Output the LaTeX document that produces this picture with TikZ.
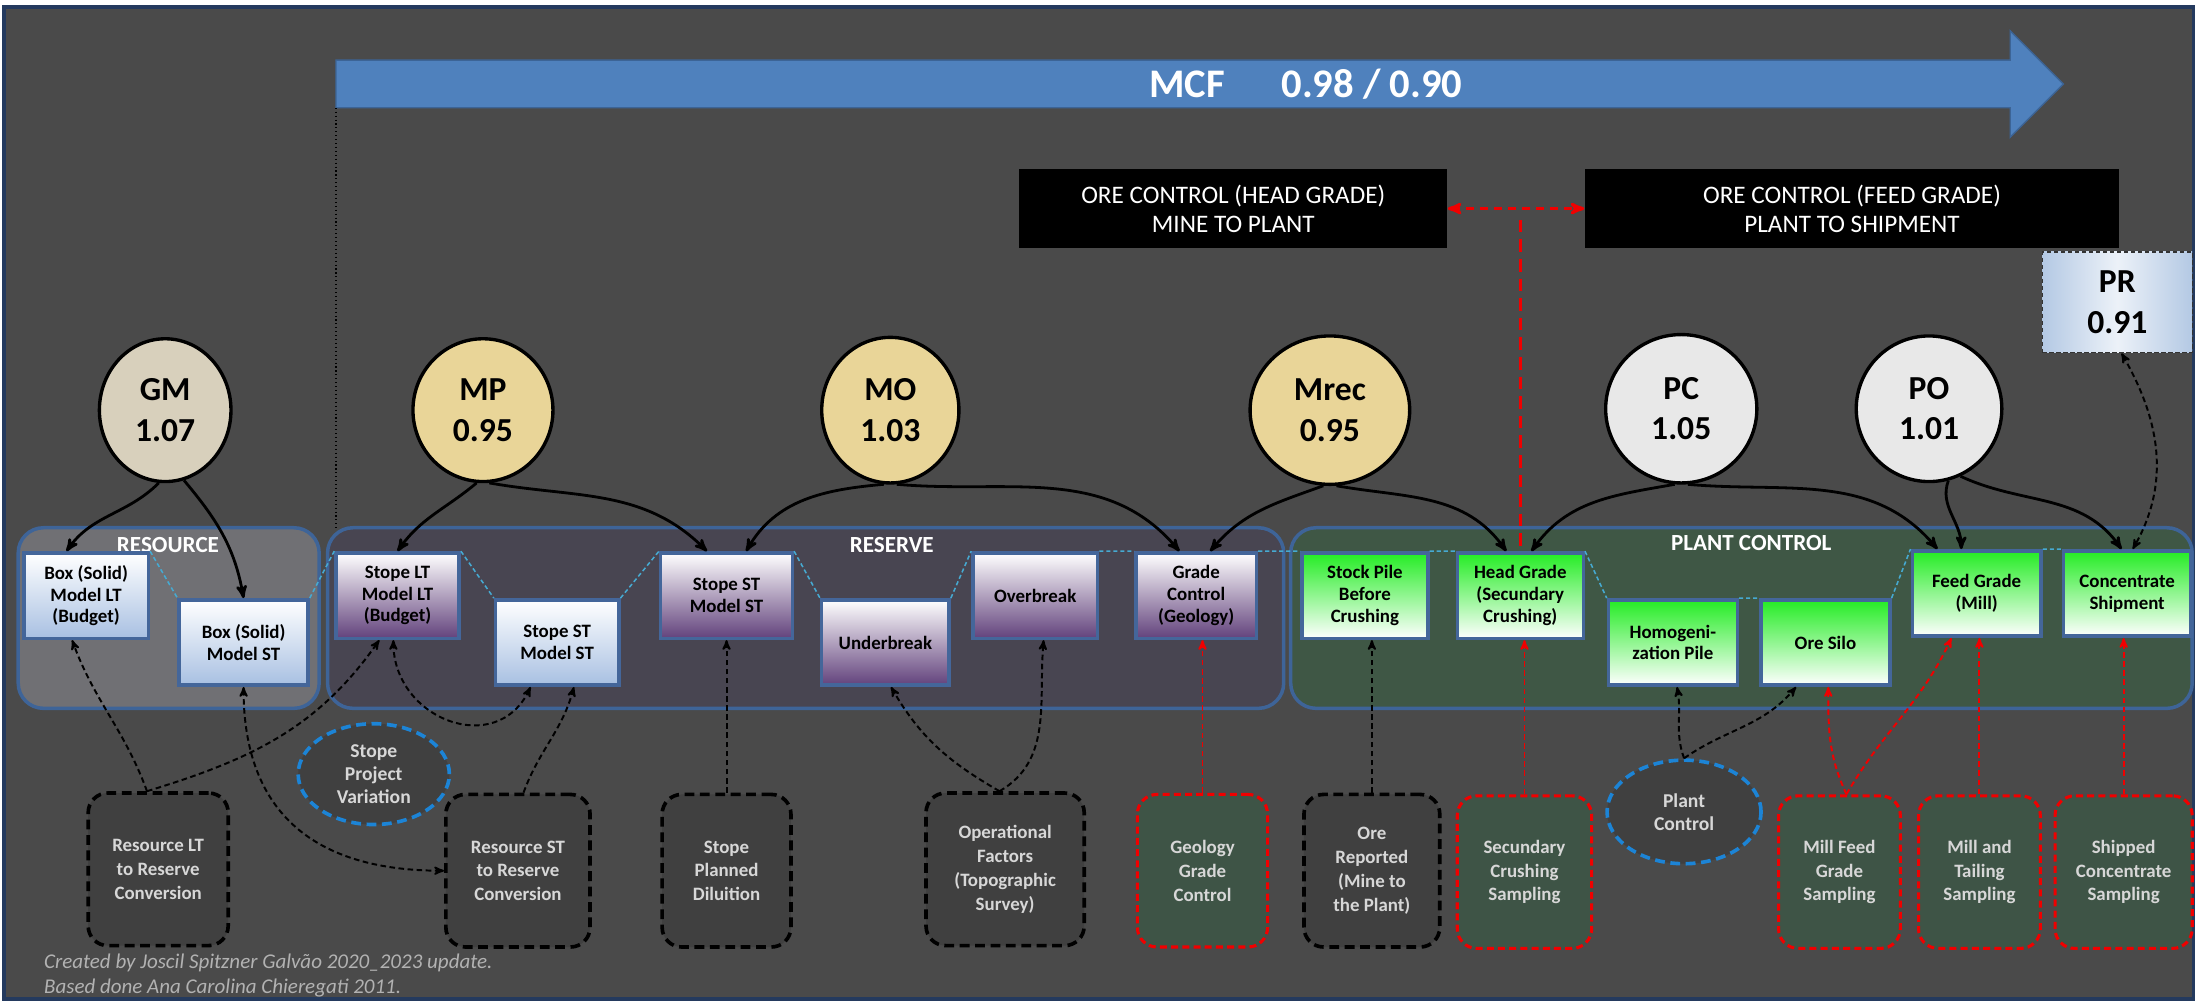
\documentclass[tikz,border=0pt]{standalone}
\usepackage{fontspec}
\setmainfont{Carlito}
\usetikzlibrary{arrows}
\usetikzlibrary{shapes}

\definecolor{bgdark}{RGB}{74,74,74}
\definecolor{frameblue}{RGB}{36,58,94}
\definecolor{mcfblue}{RGB}{79,129,189}
\definecolor{mcfedge}{RGB}{60,100,150}
\definecolor{contblue}{RGB}{62,100,152}
\definecolor{resfill}{RGB}{112,112,116}
\definecolor{resvfill}{RGB}{72,69,81}
\definecolor{plantfill}{RGB}{63,87,69}
\definecolor{boxedge}{RGB}{68,102,154}
\definecolor{lightblue}{RGB}{168,192,226}
\definecolor{stopepurple}{RGB}{98,66,124}
\definecolor{plantgreen}{RGB}{36,236,36}
\definecolor{linkcyan}{RGB}{70,170,210}
\definecolor{linen}{RGB}{216,208,188}
\definecolor{parch}{RGB}{233,213,152}
\definecolor{paper}{RGB}{232,232,232}
\definecolor{convfill}{RGB}{64,64,64}
\definecolor{sampfill}{RGB}{62,84,70}
\definecolor{ctlblue}{RGB}{28,132,214}
\definecolor{prblue}{RGB}{180,201,228}
\definecolor{notegray}{RGB}{178,178,178}
\definecolor{labelgray}{RGB}{215,215,215}
\definecolor{redline}{RGB}{240,0,0}

\begin{document}
\begin{tikzpicture}[x=1pt,y=1pt,>=stealth',
    factor/.style={ellipse,draw=black,line width=2.4pt,inner sep=0pt,align=center,
        font=\bfseries\fontsize{24}{29}\selectfont},
    modelbox/.style={rectangle,draw=boxedge,line width=2.5pt,inner sep=0pt,
        minimum width=89pt,minimum height=61pt,align=center,
        font=\bfseries\fontsize{13.5}{15.5}\selectfont},
    blueshade/.style={top color=white,bottom color=lightblue},
    purpleshade/.style={top color=white,bottom color=stopepurple},
    greenshade/.style={top color=plantgreen,bottom color=white},
    convbox/.style={rectangle,rounded corners=14pt,draw=black,line width=2.6pt,
        dash pattern=on 7pt off 4pt,fill=convfill,text=labelgray,align=center,
        minimum height=109pt,inner sep=0pt,font=\bfseries\fontsize{13.5}{17}\selectfont},
    sampbox/.style={convbox,draw=redline,fill=sampfill,line width=2.2pt,
        dash pattern=on 5pt off 3pt},
    varell/.style={ellipse,draw=ctlblue,line width=2.6pt,dash pattern=on 7pt off 4pt,
        fill=convfill,text=labelgray,align=center,inner sep=0pt,
        font=\bfseries\fontsize{14}{16.5}\selectfont},
    orebox/.style={fill=black,text=white,minimum height=56pt,inner sep=0pt,
        align=center,font=\fontsize{18}{21}\selectfont},
    container/.style={draw=contblue,line width=2.5pt,rounded corners=18pt},
    contlabel/.style={text=white,font=\bfseries\fontsize{16.5}{18}\selectfont},
    link/.style={draw=linkcyan,line width=1.1pt,dash pattern=on 3pt off 2pt},
    feeds/.style={->,line width=2pt},
    infl/.style={->,line width=1.4pt,dash pattern=on 4pt off 2.5pt},
    redinfl/.style={infl,draw=redline}]
\useasboundingbox (0,0) rectangle (1568,715);
\fill[white] (0,0) rectangle (1568,715);
\draw[frameblue,line width=2.5pt,fill=bgdark] (3,1.5) rectangle (1567,710);

% MCF arrow
\draw[mcfedge,line width=1pt,fill=mcfblue] (240,638) -- (1436,638) -- (1436,617)
    -- (1474,655) -- (1436,693) -- (1436,672) -- (240,672) -- cycle;
\node[text=white,font=\bfseries\fontsize{29}{32}\selectfont] (mcf) at (848,655) {MCF};
\node[text=white,font=\bfseries\fontsize{29}{32}\selectfont] (mcfval) at (980,655) {0.98 / 0.90};
\draw[black,dotted,line width=0.8pt] (240,638) -- (240,338);

% ore control
\node[orebox,minimum width=306pt] (oreHead) at (881,566) {ORE CONTROL (HEAD GRADE)\\MINE TO PLANT};
\node[orebox,minimum width=382pt] (oreFeed) at (1323,566) {ORE CONTROL (FEED GRADE)\\PLANT TO SHIPMENT};
\node[draw=black!80,densely dashed,line width=0.8pt,left color=prblue,right color=prblue,
    middle color=white!75!prblue,minimum width=107pt,minimum height=72pt,inner sep=0pt,
    align=center,font=\bfseries\fontsize{24}{29}\selectfont] (PR) at (1512.5,499) {PR\\0.91};

% containers
\draw[container,fill=resfill] (13,209) rectangle (228,338);
\draw[container,fill=resvfill] (234,209) rectangle (917,338);
\draw[container,fill=plantfill] (922,209) rectangle (1566,338);
\node[contlabel] (resLabel) at (120,326) {RESOURCE};
\node[contlabel] (resvLabel) at (637,326) {RESERVE};
\node[contlabel] (plantLabel) at (1251,327) {PLANT CONTROL};

% factors
\node[factor,fill=linen,minimum width=94pt,minimum height=102pt] (GM) at (118,422) {GM\\1.07};
\node[factor,fill=parch,minimum width=100pt,minimum height=102pt] (MP) at (345,422) {MP\\0.95};
\node[factor,fill=parch,minimum width=98pt,minimum height=104pt] (MO) at (636,422) {MO\\1.03};
\node[factor,fill=parch,minimum width=114pt,minimum height=106pt] (Mrec) at (950,422) {Mrec\\0.95};
\node[factor,fill=paper,minimum width=108pt,minimum height=106pt] (PC) at (1201,423) {PC\\1.05};
\node[factor,fill=paper,minimum width=104pt,minimum height=104pt] (PO) at (1378,423) {PO\\1.01};

% models
\node[modelbox,blueshade] (boxLT) at (61.5,289.5) {Box (Solid)\\Model LT\\(Budget)};
\node[modelbox,blueshade,minimum width=92pt] (boxST) at (174,256) {Box (Solid)\\Model ST};
\node[modelbox,purpleshade,minimum width=88pt] (stopeLT) at (284,289.5) {Stope LT\\Model LT\\(Budget)};
\node[modelbox,blueshade,minimum width=88pt] (stopeSTb) at (398,256) {Stope ST\\Model ST};
\node[modelbox,purpleshade,minimum width=94pt] (stopeSTa) at (519,289.5) {Stope ST\\Model ST};
\node[modelbox,purpleshade,minimum width=91pt] (under) at (632.5,256) {Underbreak};
\node[modelbox,purpleshade] (over) at (739.5,289.5) {Overbreak};
\node[modelbox,purpleshade,minimum width=86pt] (grade) at (854.5,289.5) {Grade\\Control\\(Geology)};
\node[modelbox,greenshade,minimum width=90pt] (stock) at (975,289.5) {Stock Pile\\Before\\Crushing};
\node[modelbox,greenshade,minimum width=90pt] (head) at (1086,289.5) {Head Grade\\(Secundary\\Crushing)};
\node[modelbox,greenshade,minimum width=92pt] (homog) at (1195,256) {Homogeni-\\zation Pile};
\node[modelbox,greenshade,minimum width=92pt] (silo) at (1304,256) {Ore Silo};
\node[modelbox,greenshade,minimum width=92pt] (feed) at (1412,291) {Feed Grade\\(Mill)};
\node[modelbox,greenshade,minimum width=91pt] (conc) at (1519.5,291) {Concentrate\\Shipment};

% sources
\node[convbox,minimum width=100pt] (resLT) at (113,94) {Resource LT\\to Reserve\\Conversion};
\node[varell,minimum width=108pt,minimum height=72pt] (stopeVar) at (267,162) {Stope\\Project\\Variation};
\node[convbox,minimum width=103pt] (resST) at (370,93) {Resource ST\\to Reserve\\Conversion};
\node[convbox,minimum width=92pt] (stopeDil) at (519,93) {Stope\\Planned\\Diluition};
\node[convbox,minimum width=113pt] (opFact) at (718,94) {Operational\\Factors\\(Topographic\\Survey)};
\node[sampbox,minimum width=93pt] (geoGC) at (859,93) {Geology\\Grade\\Control};
\node[convbox,minimum width=97pt] (oreRep) at (980,93) {Ore\\Reported\\(Mine to\\the Plant)};
\node[sampbox,minimum width=96pt] (secCrush) at (1089,92) {Secundary\\Crushing\\Sampling};
\node[varell,minimum width=110pt,minimum height=74pt] (plantCtl) at (1203,135) {Plant\\Control};
\node[sampbox,minimum width=87pt] (millFeed) at (1314,92) {Mill Feed\\Grade\\Sampling};
\node[sampbox,minimum width=87pt] (millTail) at (1414,92) {Mill and\\Tailing\\Sampling};
\node[sampbox,minimum width=98pt] (shipConc) at (1517,92) {Shipped\\Concentrate\\Sampling};

% corner links
\draw[link] (boxLT.north east)--(boxST.north west) (boxST.north east)--(stopeLT.north west)
    (stopeLT.north east)--(stopeSTb.north west) (stopeSTb.north east)--(stopeSTa.north west)
    (stopeSTa.north east)--(under.north west) (under.north east)--(over.north west)
    (over.north east)--(grade.north west) (grade.north east)--(stock.north west)
    (stock.north east)--(head.north west) (head.north east)--(homog.north west)
    (homog.north east)--(silo.north west) (silo.north east)--(feed.north west)
    (feed.north east)--(conc.north west);

% factor arrows
\draw[feeds] (GM.265) to[out=225,in=55] ([xshift=-14pt]boxLT.north);
\draw[feeds] (GM.285) to[out=-50,in=100] (boxST.north);
\draw[feeds] (MP.265) to[out=220,in=55] (stopeLT.north);
\draw[feeds] (MP.275) to[out=-10,in=135] ([xshift=-14pt]stopeSTa.north);
\draw[feeds] (MO.265) to[out=185,in=60] ([xshift=14pt]stopeSTa.north);
\draw[feeds] (MO.275) to[out=-5,in=130] ([xshift=-12pt]grade.north);
\draw[feeds] (Mrec.265) to[out=200,in=50] ([xshift=10pt]grade.north);
\draw[feeds] (Mrec.275) to[out=-10,in=125] ([xshift=-10pt]head.north);
\draw[feeds] (PC.265) to[out=190,in=55] ([xshift=8pt]head.north);
\draw[feeds] (PC.275) to[out=-5,in=130] ([xshift=-28pt]feed.north);
\draw[feeds] (PO.285) to[out=250,in=90] ([xshift=-11pt]feed.north);
\draw[feeds] (PO.295) to[out=-25,in=125] ([xshift=-4pt]conc.north);
\draw[infl,<->] ([xshift=3pt]PR.south) to[out=-60,in=60] ([xshift=4pt]conc.north);

% control arrows
\draw[infl] ([xshift=-8pt]resLT.north) to[out=110,in=-70] ([xshift=-10pt]boxLT.south);
\draw[infl] ([xshift=-8pt]resLT.north) to[out=17,in=-125] ([xshift=-13pt]stopeLT.south);
\draw[infl,<->] (boxST.south) to[out=-90,in=180,looseness=1.2] (resST.west);
\draw[infl,<->] ([xshift=-3pt]stopeLT.south) to[out=-90,in=-115,looseness=1.4] ([xshift=-19pt]stopeSTb.south);
\draw[infl] ([xshift=4pt]resST.north) to[out=70,in=-105] ([xshift=12pt]stopeSTb.south);
\draw[infl] (stopeDil.north) -- (stopeDil.north |- stopeSTa.south);
\draw[infl] ([xshift=-4pt]opFact.north) to[out=150,in=-60] ([xshift=4pt]under.south);
\draw[infl] ([xshift=-4pt]opFact.north) to[out=30,in=-95] ([xshift=6pt]over.south);
\draw[redinfl] (geoGC.north) -- (geoGC.north |- grade.south);
\draw[infl] (oreRep.north) -- (oreRep.north |- stock.south);
\draw[redinfl] (secCrush.north) -- (secCrush.north |- head.south);
\draw[infl] (plantCtl.north) to[out=110,in=-80] ([xshift=3pt]homog.south);
\draw[infl] (plantCtl.north) to[out=35,in=-130] ([xshift=-21pt]silo.south);
\draw[redinfl] ([xshift=5pt]millFeed.north) to[out=115,in=-90] ([xshift=2pt]silo.south);
\draw[redinfl] ([xshift=5pt]millFeed.north) to[out=60,in=-115] ([xshift=-18pt]feed.south);
\draw[redinfl] (millTail.north) -- (millTail.north |- feed.south);
\draw[redinfl] (shipConc.north) -- (shipConc.north |- conc.south);

% ore control split
\coordinate (orefork) at (1086,558);
\draw[redline,<->,line width=2.2pt,dash pattern=on 6pt off 4pt] (oreHead.east) -- (oreHead.east -| oreFeed.west);
\draw[redline,line width=2.2pt,dash pattern=on 9pt off 5pt] (orefork) -- (head.north);

\node[anchor=base west,text=notegray,font=\itshape\fontsize{15}{17}\selectfont] (credit) at (28,23) {Created by Joscil Spitzner Galvão 2020\_2023 update.};
\node[anchor=base west,text=notegray,font=\itshape\fontsize{15}{17}\selectfont] (basis) at (28,5) {Based done Ana Carolina Chieregati 2011.};
\end{tikzpicture}
\end{document}
